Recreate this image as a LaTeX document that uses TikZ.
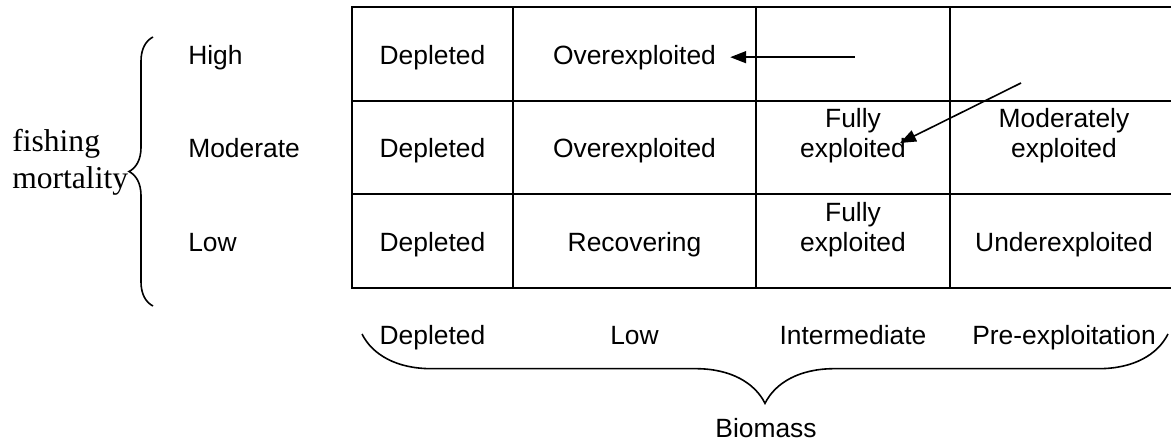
\documentclass[tikz,border=0pt]{standalone}
\usepackage{fontspec}
\setmainfont{Liberation Sans}
\newfontfamily\timesrm{Liberation Serif}
\usetikzlibrary{arrows.meta,decorations.pathreplacing}

\begin{document}
\begin{tikzpicture}[x=0.75pt, y=-0.75pt,
    cell/.style={anchor=base, align=center, inner sep=0pt, font=\fontsize{19.8pt}{22.5pt}\selectfont},
    rowlab/.style={anchor=base west, inner sep=0pt, font=\fontsize{19.8pt}{22.5pt}\selectfont},
    grid/.style={line width=1.6pt},
    pointer/.style={line width=1.2pt, -{Triangle[length=12pt, width=9pt]}},
    curly/.style={line width=1.2pt, decorate, decoration={brace, amplitude=#1}}]
    \useasboundingbox (0,0) rectangle (1171,443);

    % table
    \draw[grid] (352,7) rectangle (1178,288);
    \draw[grid] (352,101) -- (1178,101) (352,194) -- (1178,194);
    \draw[grid] (513,7) -- (513,288) (756,7) -- (756,288) (950,7) -- (950,288);

    \node[cell] (d1) at (432.5,64) {Depleted};
    \node[cell] (o1) at (634.5,64) {Overexploited};
    \node[cell] (d2) at (432.5,157) {Depleted};
    \node[cell] (o2) at (634.5,157) {Overexploited};
    \node[cell] (f2) at (853,157) {Fully\\exploited};
    \node[cell] (m2) at (1064,157) {Moderately\\exploited};
    \node[cell] (d3) at (432.5,251) {Depleted};
    \node[cell] (r3) at (634.5,251) {Recovering};
    \node[cell] (f3) at (853,251) {Fully\\exploited};
    \node[cell] (u3) at (1064,251) {Underexploited};

    % fishing mortality side
    \node[rowlab] (hi) at (188,64) {High};
    \node[rowlab] (mo) at (188,157) {Moderate};
    \node[rowlab] (lo) at (188,251) {Low};
    \node[anchor=base west, align=left, inner sep=0pt,
          font=\timesrm\fontsize{23.7pt}{27.5pt}\selectfont] (fm) at (12,188) {fishing\\mortality};
    \draw[curly=18pt] (153,306) -- (153,37);

    % biomass side
    \node[cell] (bd) at (432.5,344) {Depleted};
    \node[cell] (bl) at (634.5,344) {Low};
    \node[cell] (bi) at (853,344) {Intermediate};
    \node[cell] (bp) at (1064,344) {Pre-exploitation};
    \draw[curly=52pt] (1168,334) -- (362,334);
    \node[cell] (bm) at (766,437) {Biomass};

    % arrows
    \coordinate (a1) at ([xshift=104pt]o1.east);
    \draw[pointer] (a1) -- ([xshift=10.5pt]o1.east);
    \coordinate (a2) at (1021,83);
    \coordinate (a2e) at (900,143);
    \draw[pointer] (a2) -- (a2e);
\end{tikzpicture}
\end{document}
